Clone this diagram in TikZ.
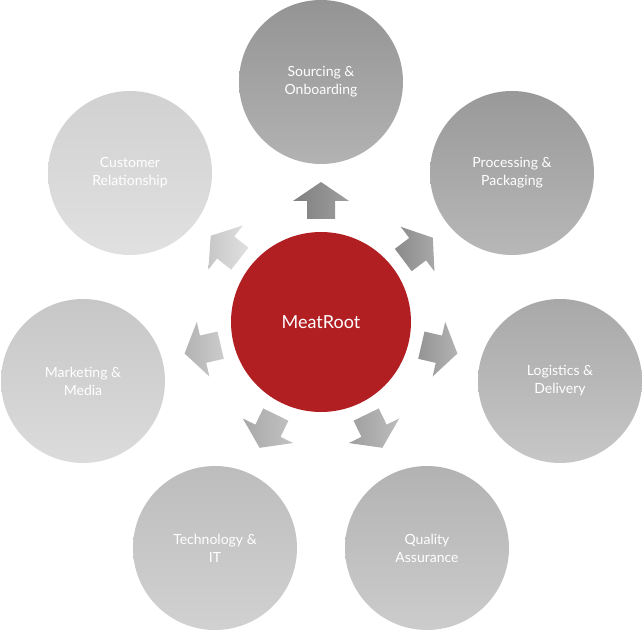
\documentclass[tikz,border=0pt]{standalone}
\usepackage{fontspec}
\setmainfont{Lato}
\usetikzlibrary{calc}
\begin{document}
\begin{tikzpicture}[x=1pt,y=1pt,
 outer/.style={circle,minimum size=164pt,inner sep=0pt,align=center,text=white,font=\fontsize{14}{18}\selectfont},
 arr/.style 2 args={left color=black!#1,right color=black!#2,draw=none}]
\useasboundingbox (0,0) rectangle (642,630);
\node[circle,minimum size=180pt,fill={rgb,255:red,178;green,31;blue,35},text=white,font=\fontsize{18}{22}\selectfont] (c) at (321,308) {MeatRoot};
\node[outer,top color=black!42,bottom color=black!30] (s) at (321,548) {Sourcing \&\\Onboarding};
\node[outer,top color=black!40,bottom color=black!28] (p) at (512,457) {Processing \&\\Packaging};
\node[outer,top color=black!34,bottom color=black!22] (l) at (560,249) {Logistics \&\\Delivery};
\node[outer,top color=black!30,bottom color=black!20] (q) at (427,82) {Quality\\Assurance};
\node[outer,top color=black!26,bottom color=black!18] (t) at (215,82) {Technology \&\\IT};
\node[outer,top color=black!22,bottom color=black!14] (m) at (83,249) {Marketing \&\\Media};
\node[outer,top color=black!18,bottom color=black!12] (u) at (130,457) {Customer\\Relationship};
\foreach \a/\ca/\cb in {90/50/38,37/46/34,-13/42/30,-64/38/26,-116/34/24,193/30/20,142/22/12}{
  \begin{scope}[shift={($(c)+(\a:120)$)},rotate=\a]
    \path[arr={\ca}{\cb}] (-17,-14) -- (1,-14) -- (1,-28) -- (20,0) -- (1,28) -- (1,14) -- (-17,14) -- cycle;
  \end{scope}}
\end{tikzpicture}
\end{document}
